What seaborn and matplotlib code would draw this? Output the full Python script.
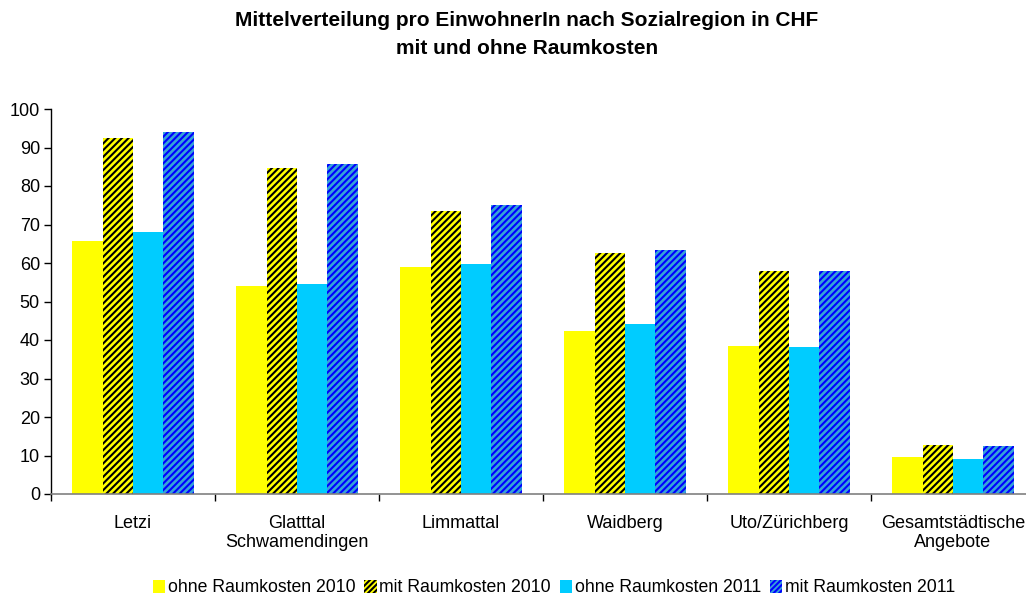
import matplotlib
matplotlib.use("Agg")
import matplotlib.pyplot as plt
from matplotlib.patches import Patch
import seaborn as sns
import pandas as pd
import numpy as np

categories = ["Letzi", "Glatttal\nSchwamendingen", "Limmattal", "Waidberg",
              "Uto/Zürichberg", "Gesamtstädtische\nAngebote"]
series_names = ["ohne Raumkosten 2010", "mit Raumkosten 2010",
                "ohne Raumkosten 2011", "mit Raumkosten 2011"]
ohne_2010 = [65.7, 54.1, 59.0, 42.4, 38.5, 9.7]
mit_2010 = [92.5, 84.7, 73.5, 62.6, 58.0, 12.8]
ohne_2011 = [68.1, 54.6, 59.8, 44.2, 38.2, 9.2]
mit_2011 = [94.0, 85.7, 75.1, 63.4, 58.0, 12.5]
yticks = list(range(0, 101, 10))

sns.set_theme(style="white")
plt.rcParams["font.family"] = ["Liberation Sans", "DejaVu Sans"]
plt.rcParams["hatch.linewidth"] = 1.5
plt.rcParams["text.color"] = "#000000"
plt.rcParams["xtick.color"] = "#000000"
plt.rcParams["ytick.color"] = "#000000"
plt.rcParams["axes.labelcolor"] = "#000000"

rows = []
for name, vals in zip(series_names, [ohne_2010, mit_2010, ohne_2011, mit_2011]):
    for c, v in zip(categories, vals):
        rows.append({"Region": c, "Serie": name, "Wert": v})
df = pd.DataFrame(rows)

faces = ["#FFFF00", "#FFFF00", "#00CCFF", "#36A2D8"]
hatch_cols = [None, "#000000", None, "#0000FF"]
hatches = [None, "/////", None, "/////"]

fig = plt.figure(figsize=(10.26, 6.01), dpi=100)
ax = fig.add_axes([51 / 1026, 1 - 494 / 601, 984 / 1026, 385 / 601])

sns.barplot(data=df, x="Region", y="Wert", hue="Serie", order=categories,
            hue_order=series_names, palette=faces, width=0.74, gap=0,
            saturation=1, ax=ax, legend=False, linewidth=0)

for cont, fc, hc, h in zip(ax.containers, faces, hatch_cols, hatches):
    for bar in cont:
        bar.set_facecolor(fc)
        bar.set_linewidth(0)
        if h:
            bar.set_hatch(h)
            bar.set_edgecolor(hc)

ax.set_ylim(0, 100)
ax.set_xlim(-0.5, 5.5)
ax.set_yticks(yticks)
ax.set_xlabel("")
ax.set_ylabel("")
for s in ["top", "right"]:
    ax.spines[s].set_visible(False)
ax.spines["left"].set_color("#000000")
ax.spines["bottom"].set_color("#808080")
ax.spines["left"].set_linewidth(1)
ax.spines["bottom"].set_linewidth(1.2)

ax.set_xticks(np.arange(len(categories)))
ax.set_xticklabels(categories)
ax.set_xticks(np.arange(len(categories) + 1) - 0.5, minor=True)
ax.tick_params(axis="x", which="major", length=0, pad=15, labelsize=13, colors="#000000")
ax.tick_params(axis="x", which="minor", length=5, width=1, color="#000000", direction="out", bottom=True)
ax.tick_params(axis="y", which="major", length=5, width=1, color="#000000", direction="out",
               left=True, labelsize=13, pad=3)
for t in ax.get_xticklabels():
    t.set_linespacing(1.15)

fig.text(0.5135, 1 - 20 / 601, "Mittelverteilung pro EinwohnerIn nach Sozialregion in CHF",
         ha="center", va="center", fontsize=15, fontweight="bold")
fig.text(0.5135, 1 - 48 / 601, "mit und ohne Raumkosten",
         ha="center", va="center", fontsize=15, fontweight="bold")

handles = []
for name, fc, hc, h in zip(series_names, faces, hatch_cols, hatches):
    if h:
        handles.append(Patch(facecolor=fc, edgecolor=hc, hatch="//////", linewidth=0, label=name))
    else:
        handles.append(Patch(facecolor=fc, linewidth=0, label=name))
fig.legend(handles=handles, loc="center", bbox_to_anchor=(554 / 1026, 1 - 588 / 601),
           ncol=4, frameon=False, fontsize=12.7, handlelength=0.7, handleheight=0.7,
           handletextpad=0.15, columnspacing=0.5, borderaxespad=0)

fig.savefig("out.png", dpi=100)
